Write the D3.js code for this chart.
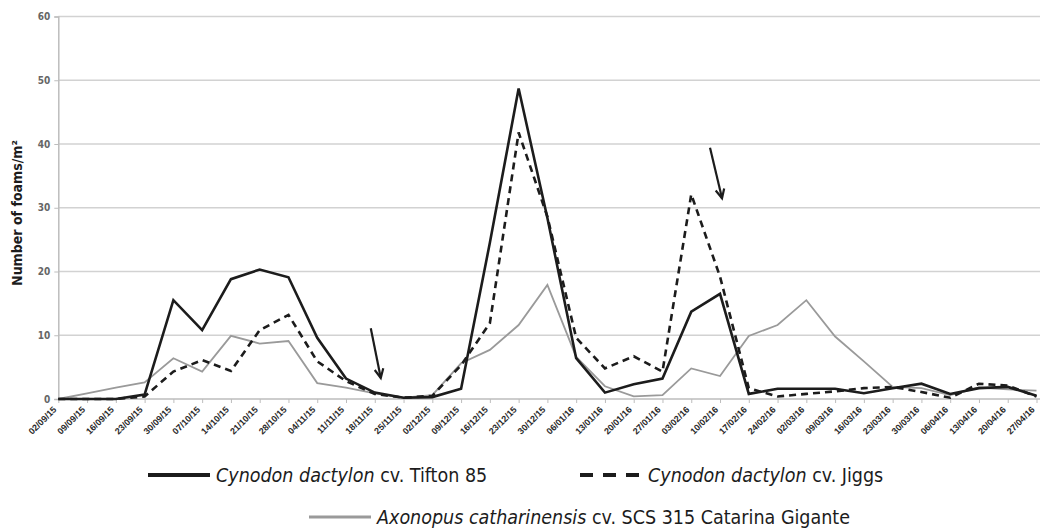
<!DOCTYPE html>
<html>
<head>
<meta charset="utf-8">
<script src="https://cdn.jsdelivr.net/npm/d3@7"></script>
<style>
  body { margin: 0; background: #fff; }
  svg { display: block; font-family: "DejaVu Sans Condensed", "Liberation Sans Narrow", sans-serif; }
</style>
</head>
<body>
<div id="chart"></div>
<script>
var dates = ["02/09/15","09/09/15","16/09/15","23/09/15","30/09/15","07/10/15","14/10/15","21/10/15","28/10/15",
  "04/11/15","11/11/15","18/11/15","25/11/15","02/12/15","09/12/15","16/12/15","23/12/15","30/12/15",
  "06/01/16","13/01/16","20/01/16","27/01/16","03/02/16","10/02/16","17/02/16","24/02/16",
  "02/03/16","09/03/16","16/03/16","23/03/16","30/03/16","06/04/16","13/04/16","20/04/16","27/04/16"];

var tifton = [0,0,0,0.7,15.5,10.8,18.8,20.3,19.1,9.6,3.2,1.0,0.2,0.3,1.6,24.5,48.7,28.4,6.4,1.0,2.3,3.2,13.7,16.5,0.8,1.6,1.6,1.6,0.9,1.7,2.4,0.8,1.7,1.9,0.5];
var jiggs = [0,0,0,0.4,4.3,6.1,4.4,10.8,13.2,5.9,2.8,0.8,0.2,0.5,5.3,11.9,41.8,28.6,9.6,4.8,6.7,4.3,32.1,19.2,1.7,0.4,0.8,1.2,1.7,1.9,1.1,0.2,2.4,2.1,0.4];
var axonopus = [0,0.9,1.8,2.6,6.4,4.3,9.9,8.7,9.1,2.5,1.8,0.9,0.2,0.6,5.6,7.7,11.6,17.9,6.6,2.0,0.4,0.6,4.8,3.6,9.9,11.6,15.5,9.8,5.9,1.9,1.7,0.6,1.8,1.5,1.3];

var yTicks = [0,10,20,30,40,50,60];

// arrows pointing at the dates of interest (tail and tip in data units)
var arrows = [
  { date: "18/11/15", dx0: -4, v0: 11.1, dx1: 6, v1: 3.3 },
  { date: "10/02/16", dx0: -10, v0: 39.4, dx1: 2, v1: 31.5 }
];

var series = [
  { name: "Cynodon dactylon", rest: " cv. Tifton 85", values: tifton, color: "#1c1c1c", width: 2.6, dash: null },
  { name: "Cynodon dactylon", rest: " cv. Jiggs", values: jiggs, color: "#1c1c1c", width: 2.6, dash: "7,5" },
  { name: "Axonopus catharinensis", rest: " cv. SCS 315 Catarina Gigante", values: axonopus, color: "#9a9a9a", width: 1.8, dash: null }
];

function drawChart() {
  var W = 1040, H = 529;
  var margin = { left: 58.3, top: 16.5, bottom: 399, right: 1036.5 };

  var svg = d3.select("#chart").append("svg")
    .attr("width", W)
    .attr("height", H);

  var x = d3.scalePoint().domain(dates).range([margin.left, margin.right]);
  var y = d3.scaleLinear().domain([0, 60]).range([margin.bottom, margin.top]);

  // gridlines
  svg.append("g")
    .selectAll("line")
    .data(yTicks.filter(d => d > 0))
    .enter()
    .append("line")
    .attr("x1", margin.left)
    .attr("x2", W)
    .attr("y1", d => y(d))
    .attr("y2", d => y(d))
    .attr("stroke", "#d2d2d2")
    .attr("stroke-width", 1.5);

  // y axis
  var yAxis = svg.append("g")
    .attr("transform", "translate(" + margin.left + ",0)")
    .call(d3.axisLeft(y).tickValues(yTicks).tickSize(4).tickPadding(4));
  yAxis.select(".domain").attr("stroke", "#bdbdbd").attr("stroke-width", 1.5);
  yAxis.selectAll(".tick line").attr("stroke", "#bdbdbd");
  yAxis.selectAll("text")
    .attr("font-size", "10px")
    .attr("font-weight", "bold")
    .attr("fill", "#666")
    .attr("font-family", "\"DejaVu Sans Condensed\", sans-serif");

  // x axis
  var xAxis = svg.append("g")
    .attr("transform", "translate(0," + margin.bottom + ")")
    .call(d3.axisBottom(x).tickSize(4).tickSizeOuter(0));
  xAxis.select(".domain").attr("stroke", "#bdbdbd").attr("stroke-width", 1.5).attr("d", "M" + margin.left + ",0H" + W);
  xAxis.selectAll(".tick line").attr("stroke", "#bdbdbd");
  xAxis.selectAll("text")
    .attr("font-size", "9px")
    .attr("font-weight", "bold")
    .attr("fill", "#2a2a2a")
    .style("text-anchor", "end")
    .attr("x", 0)
    .attr("y", 0)
    .attr("dy", "0.35em")
    .attr("transform", "translate(-4,9) rotate(-45)");

  // lines
  var line = d3.line()
    .x((d, i) => x(dates[i]))
    .y(d => y(d));

  svg.append("g")
    .selectAll("path")
    .data(series.slice().reverse())
    .enter()
    .append("path")
    .attr("d", d => line(d.values))
    .attr("fill", "none")
    .attr("stroke", d => d.color)
    .attr("stroke-width", d => d.width)
    .attr("stroke-dasharray", d => d.dash)
    .attr("stroke-linejoin", "miter");

  // arrows
  var ag = svg.append("g").attr("stroke", "#1c1c1c").attr("stroke-width", 2.2).attr("fill", "none");
  arrows.forEach(function(a) {
    var x0 = x(a.date) + a.dx0, y0 = y(a.v0);
    var x1 = x(a.date) + a.dx1, y1 = y(a.v1);
    var ang = Math.atan2(y1 - y0, x1 - x0);
    var L = 10, spread = 0.45;
    ag.append("line").attr("x1", x0).attr("y1", y0).attr("x2", x1).attr("y2", y1);
    ag.append("path")
      .attr("d", "M" + (x1 - L * Math.cos(ang - spread)) + "," + (y1 - L * Math.sin(ang - spread)) +
        "L" + x1 + "," + y1 +
        "L" + (x1 - L * Math.cos(ang + spread)) + "," + (y1 - L * Math.sin(ang + spread)));
  });

  // y axis title
  svg.append("text")
    .attr("transform", "translate(22,213) rotate(-90)")
    .attr("text-anchor", "middle")
    .attr("font-size", "14px")
    .attr("font-weight", "bold")
    .attr("fill", "#1c1c1c")
    .text("Number of foams/m²");

  // legend
  var legendPos = [
    { x: 148, y: 475 },
    { x: 580, y: 475 },
    { x: 309, y: 517 }
  ];
  series.forEach(function(s, i) {
    var p = legendPos[i];
    var g = svg.append("g").attr("transform", "translate(" + p.x + "," + p.y + ")");
    g.append("line")
      .attr("x1", 0).attr("x2", 62)
      .attr("y1", 0).attr("y2", 0)
      .attr("stroke", s.color)
      .attr("stroke-width", i === 2 ? 3 : 4)
      .attr("stroke-dasharray", s.dash ? "13,10" : null);
    var t = g.append("text")
      .attr("x", 68)
      .attr("y", 7)
      .attr("font-size", "19.5px")
      .attr("fill", "#1c1c1c");
    t.append("tspan").attr("font-style", "italic").text(s.name);
    t.append("tspan").text(s.rest);
  });
}

drawChart();
</script>
</body>
</html>
